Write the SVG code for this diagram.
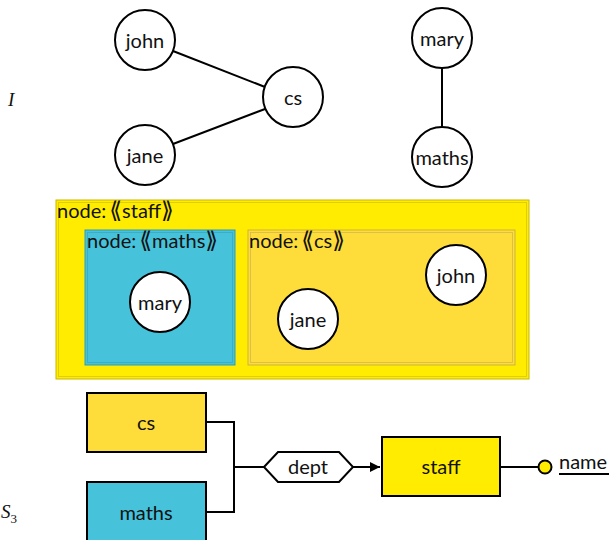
<svg xmlns="http://www.w3.org/2000/svg" width="612" height="540" viewBox="0 0 612 540">
  <defs>
    <style>
      text { font-family: Lato, "Open Sans", "DejaVu Sans", sans-serif; font-size: 20px; fill: #111; }
      .c { text-anchor: middle; dominant-baseline: central; }
      .br { font-family: "DejaVu Sans", sans-serif; font-size: 23px; }
      .math { font-family: "Liberation Serif", serif; font-style: italic; font-size: 19px; }
      .inst { fill: #fff; stroke: #000; stroke-width: 2; }
      .edge { stroke: #000; stroke-width: 2; fill: none; }
      .ent { stroke: #000; stroke-width: 2; }
    </style>
    <marker id="arr" viewBox="0 0 10 10" refX="10" refY="5" markerWidth="5" markerHeight="5" orient="auto" markerUnits="strokeWidth">
      <path d="M0,0 L10,5 L0,10 z" fill="#000"/>
    </marker>
  </defs>

  <rect width="612" height="540" fill="#fff"/>

  <!-- instance graph I -->
  <text class="math" x="8" y="106">I</text>
  <g id="inst-edges">
    <line class="edge" x1="173" y1="51" x2="265" y2="87"/>
    <line class="edge" x1="173" y1="144" x2="265" y2="109"/>
    <line class="edge" x1="442" y1="68" x2="442" y2="128"/>
  </g>
  <g id="i-john"><circle class="inst" cx="145" cy="40" r="30"/><text class="c" x="145" y="40">john</text></g>
  <g id="i-jane"><circle class="inst" cx="145" cy="155" r="30"/><text class="c" x="145" y="155">jane</text></g>
  <g id="i-cs"><circle class="inst" cx="293" cy="97" r="30"/><text class="c" x="293" y="97">cs</text></g>
  <g id="i-mary"><circle class="inst" cx="442" cy="38" r="30"/><text class="c" x="442" y="38">mary</text></g>
  <g id="i-maths"><circle class="inst" cx="442" cy="157" r="30"/><text class="c" x="442" y="157">maths</text></g>

  <!-- nested grouping -->
  <g id="g-staff">
    <rect x="56" y="200" width="473" height="179" fill="#ffec00" stroke="#c9b800" stroke-width="1"/>
    <rect x="58.5" y="202.5" width="468" height="174" fill="none" stroke="#d8c800" stroke-width="0.8"/>
    <text x="57" y="218">node:<tspan class="br" dx="3">⟪</tspan>staff<tspan class="br">⟫</tspan></text>
  </g>
  <g id="g-maths">
    <rect x="85" y="230" width="150" height="135" fill="#46c3db" stroke="#2f9bb0" stroke-width="1"/>
    <rect x="87.5" y="232.5" width="145" height="130" fill="none" stroke="#3aa9c0" stroke-width="0.8"/>
    <text x="87" y="248">node:<tspan class="br" dx="3">⟪</tspan>maths<tspan class="br">⟫</tspan></text>
    <circle class="inst" cx="160" cy="302" r="30"/>
    <text class="c" x="160" y="302">mary</text>
  </g>
  <g id="g-cs">
    <rect x="248" y="230" width="267" height="135" fill="#fedc3a" stroke="#cdb43a" stroke-width="1"/>
    <rect x="250.5" y="232.5" width="262" height="130" fill="none" stroke="#d4b84a" stroke-width="0.8"/>
    <text x="249" y="248">node:<tspan class="br" dx="3">⟪</tspan>cs<tspan class="br">⟫</tspan></text>
    <circle class="inst" cx="456" cy="275" r="30"/>
    <text class="c" x="456" y="275">john</text>
    <circle class="inst" cx="308" cy="319" r="30"/>
    <text class="c" x="308" y="319">jane</text>
  </g>

  <!-- schema S3 -->
  <text class="math" x="1" y="518">S<tspan font-size="13" dy="5" font-style="normal">3</tspan></text>
  <g id="schema-edges">
    <polyline class="edge" points="206,422 234,422 234,512 206,512"/>
    <line class="edge" x1="234" y1="467" x2="264" y2="467"/>
    <line class="edge" x1="353" y1="467" x2="380" y2="467" marker-end="url(#arr)"/>
    <line class="edge" x1="500" y1="467" x2="539" y2="467"/>
  </g>
  <g id="s-cs"><rect class="ent" x="87" y="393" width="119" height="59" fill="#fedc3a"/><text class="c" x="146" y="422">cs</text></g>
  <g id="s-maths"><rect class="ent" x="87" y="482" width="119" height="60" fill="#46c3db"/><text class="c" x="146" y="512">maths</text></g>
  <g id="s-dept">
    <polygon class="ent" points="264,467 278,452 339,452 353,467 339,482 278,482" fill="#fff"/>
    <text class="c" x="308" y="466">dept</text>
  </g>
  <g id="s-staff"><rect class="ent" x="382" y="437" width="118" height="59" fill="#ffec00"/><text class="c" x="441" y="466">staff</text></g>
  <g id="s-name">
    <circle cx="545" cy="467" r="6.5" fill="#ffec00" stroke="#000" stroke-width="2"/>
    <text x="559" y="469">name</text>
    <line x1="559" y1="474" x2="609" y2="474" stroke="#000" stroke-width="2"/>
  </g>
</svg>
